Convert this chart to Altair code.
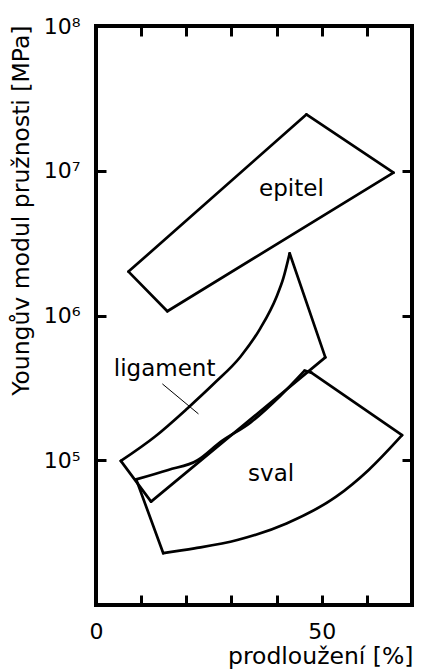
import altair as alt
import pandas as pd

# --- data (x: elongation [%], y: Young's modulus [MPa]) ---
# closed outlines; *_corners mark the indices where one edge ends and the next begins
epitel_x = [7.2, 46.6, 65.9, 15.8, 7.2]
epitel_y = [2.01e6, 2.45e7, 9.7e6, 1.07e6, 2.01e6]
epitel_corners = [0, 1, 2, 3, 4]

ligament_x = [5.5, 13.1, 20.3, 26.2, 32.0, 36.4, 40.0, 41.5, 42.9, 50.8, 12.2, 5.5]
ligament_y = [9.9e4, 1.46e5, 2.29e5, 3.4e5, 5.19e5, 8.15e5, 1.35e6, 1.81e6, 2.69e6,
              5.14e5, 5.18e4, 9.9e4]
ligament_corners = [0, 8, 9, 10, 11]

sval_x = [8.9, 16.0, 22.5, 27.6, 34.2, 40.8, 46.2, 47.7, 67.8, 60.4, 53.2, 42.2,
          31.3, 21.8, 14.9, 8.9]
sval_y = [7.38e4, 8.57e4, 1.0e5, 1.34e5, 1.82e5, 2.78e5, 4.16e5, 4.03e5, 1.49e5,
          8.57e4, 5.6e4, 3.66e4, 2.81e4, 2.46e4, 2.28e4, 7.38e4]
sval_corners = [0, 6, 7, 8, 14, 15]

label_text = ["epitel", "ligament", "sval"]
label_x = [43.3, 15.2, 38.8]
label_y = [6.73e6, 3.84e5, 7.23e4]

leader_x = [14.7, 22.7]
leader_y = [3.37e5, 2.09e5]

x_ticks = [0, 10, 20, 30, 40, 50, 60, 70]
y_ticks = [1e5, 1e6, 1e7, 1e8]
x_title = "prodloužení [%]"
y_title = "Youngův modul pružnosti [MPa]"

# --- tables ---
rows = []
for name, xs, ys, corners in [("epitel", epitel_x, epitel_y, epitel_corners),
                              ("ligament", ligament_x, ligament_y, ligament_corners),
                              ("sval", sval_x, sval_y, sval_corners)]:
    for k in range(len(corners) - 1):
        for j in range(corners[k], corners[k + 1] + 1):
            rows.append({"seg": f"{name}-{k}", "x": xs[j], "y": ys[j]})
segs = pd.DataFrame(rows)
labels = pd.DataFrame({"t": label_text, "x": label_x, "y": label_y})
leader = pd.DataFrame({"x": [leader_x[0]], "y": [leader_y[0]],
                       "x2": [leader_x[1]], "y2": [leader_y[1]]})

FONT = "DejaVu Sans"
FS = 22
TFS = 23.5
xscale = alt.Scale(domain=[0, 70], nice=False, zero=False)
yscale = alt.Scale(type="log", domain=[1e4, 1e8], nice=False)

tick_style = dict(offset=-10, tickSize=10, tickWidth=3, tickColor="black",
                  domain=False, grid=False, labelFont=FONT, labelFontSize=FS,
                  labelColor="black", labelOverlap=False, labelFlush=False)
title_style = dict(titleFont=FONT, titleFontSize=TFS, titleFontWeight="normal",
                   titleColor="black")

bottom_axis = alt.Axis(orient="bottom", values=x_ticks, labelPadding=16,
                       labelExpr="datum.value == 0 || datum.value == 50 ? datum.label : ''",
                       title=x_title, titleAlign="right", titleBaseline="alphabetic",
                       titleX=317, titleY=68, **tick_style, **title_style)
left_axis = alt.Axis(orient="left", values=y_ticks, labelPadding=16,
                     labelExpr="'10' + ['⁰','¹','²','³','⁴','⁵','⁶','⁷','⁸'][round(log(datum.value)/LN10)]",
                     title=y_title, titleAngle=270, titleAlign="right",
                     titleBaseline="alphabetic", titleX=-77.5, titleY=-1,
                     **tick_style, **title_style)
top_axis = alt.Axis(orient="top", values=x_ticks, labels=False, title=None, **tick_style)
right_axis = alt.Axis(orient="right", values=y_ticks, labels=False, title=None, **tick_style)

outlines = alt.Chart(segs).mark_line(color="black", strokeWidth=2.7,
                                     interpolate="monotone", strokeCap="round",
                                     strokeJoin="round").encode(
    x=alt.X("x:Q", scale=xscale, axis=bottom_axis),
    y=alt.Y("y:Q", scale=yscale, axis=left_axis),
    detail="seg:N",
)

frame_axes = alt.Chart(segs).mark_point(opacity=0).encode(
    x=alt.X("x:Q", scale=xscale, axis=top_axis),
    y=alt.Y("y:Q", scale=yscale, axis=right_axis),
)

texts = alt.Chart(labels).mark_text(font=FONT, fontSize=23, color="black",
                                    align="center", baseline="alphabetic").encode(
    x=alt.X("x:Q", scale=xscale, axis=None),
    y=alt.Y("y:Q", scale=yscale, axis=None),
    text="t:N",
)

lead = alt.Chart(leader).mark_rule(color="black", strokeWidth=1).encode(
    x=alt.X("x:Q", scale=xscale, axis=None),
    y=alt.Y("y:Q", scale=yscale, axis=None),
    x2="x2:Q",
    y2="y2:Q",
)

chart = alt.layer(outlines, frame_axes, texts, lead).resolve_axis(
    x="independent", y="independent"
).properties(
    width=316, height=579,
    autosize=alt.AutoSizeParams(type="none"),
    padding={"left": 88, "top": 18, "right": 2, "bottom": 64},
).configure_view(stroke="black", strokeWidth=4)

chart.save("out.html", embed_options={"renderer": "svg", "actions": False})
